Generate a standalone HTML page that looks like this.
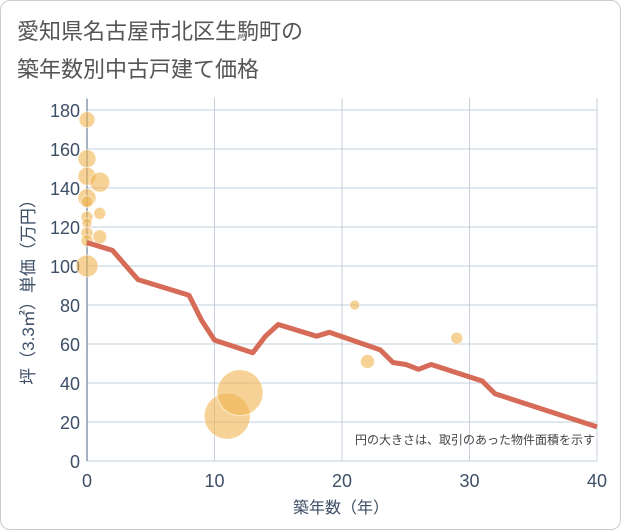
<!DOCTYPE html>
<html><head><meta charset="utf-8"><style>
body{margin:0;background:#fff;font-family:"Liberation Sans","Noto Sans CJK JP",sans-serif}
#wrap{position:relative;width:619px;height:528px;border:1px solid #ccc;border-radius:10px;overflow:hidden}
</style></head><body>
<div id="wrap">
<svg id="c" width="619" height="528">
<text x="16" y="38" font-size="22" fill="#555">愛知県名古屋市北区生駒町の</text>
<text x="16" y="76" font-size="22" fill="#555">築年数別中古戸建て価格</text>
<g id="grid"></g><g id="marks"></g>
<text x="594" y="443" font-size="12" fill="#444" text-anchor="end">円の大きさは、取引のあった物件面積を示す</text>
<text x="340" y="512" font-size="16" fill="#3d4f66" text-anchor="middle">築年数（年）</text>
<text transform="translate(33,287) rotate(-90)" font-size="17" fill="#3d4f66" text-anchor="middle">坪（3.3㎡）単価（万円）</text>
</svg></div>
<script>
const xTicks=[0,10,20,30,40];
const yTicks=[0,20,40,60,80,100,120,140,160,180];
const lineYears=[0,2,4,8,9,10,13,14,15,18,19,23,24,25,26,27,31,32,40];
const linePrices=[112,108,93,85,72,62,55.5,64,70,64,66,57,50.5,49.5,47,49.5,41,34.5,17.5];
const bubbleYears=[0,0,0,1,0,0,1,0,0,1,0,0,0,21,22,29,11,12];
const bubblePrices=[175,155,146,143,135,133,127,125,122,115,117,113,100,80,51,63,23,35];
const bubbleSizes=[8,9,9,10,9,6,6,6,5,7,6,6,11,5,7,6,23,23];
const X=v=>86+v*12.75, Y=v=>460-v*1.95;
const ns="http://www.w3.org/2000/svg";
const g=document.getElementById('grid'), m=document.getElementById('marks');
function mk(t,a,p){const e=document.createElementNS(ns,t);for(const k in a)e.setAttribute(k,a[k]);p.appendChild(e);return e;}
yTicks.forEach(t=>{
 const l=mk('line',{x1:86,x2:596,y1:Y(t),y2:Y(t),stroke:'#d5dfe9','stroke-width':1.5},g);
 
 
 const s=mk('text',{x:79,y:Y(t)+7,'font-size':18,fill:'#3d4f66','text-anchor':'end'},g);s.textContent=t;
 
 
});
xTicks.forEach(t=>{
 const l=mk('line',{x1:X(t),x2:X(t),y1:Y(0),y2:Y(180)-12,stroke:'#c5d0dc','stroke-width':1},g);
 
 
 const s=mk('text',{x:X(t),y:486,'font-size':18,fill:'#3d4f66','text-anchor':'middle'},g);s.textContent=t;
 
 
});
const ax=mk('line',{x1:86,x2:86,y1:98,y2:460,stroke:'#8899aa','stroke-width':1.5},g);


bubbleYears.forEach((yr,i)=>{
 const c=mk('circle',{cx:X(yr),cy:Y(bubblePrices[i]),r:bubbleSizes[i],fill:'rgba(240,180,80,0.6)',stroke:'rgba(255,255,255,0.6)'},m);
 
 
});
const pl=mk('polyline',{points:lineYears.map((yr,i)=>X(yr)+','+Y(linePrices[i])).join(' '),fill:'none',stroke:'#d66b57','stroke-width':5,'stroke-linejoin':'round'},m);


</script>
</body></html>
